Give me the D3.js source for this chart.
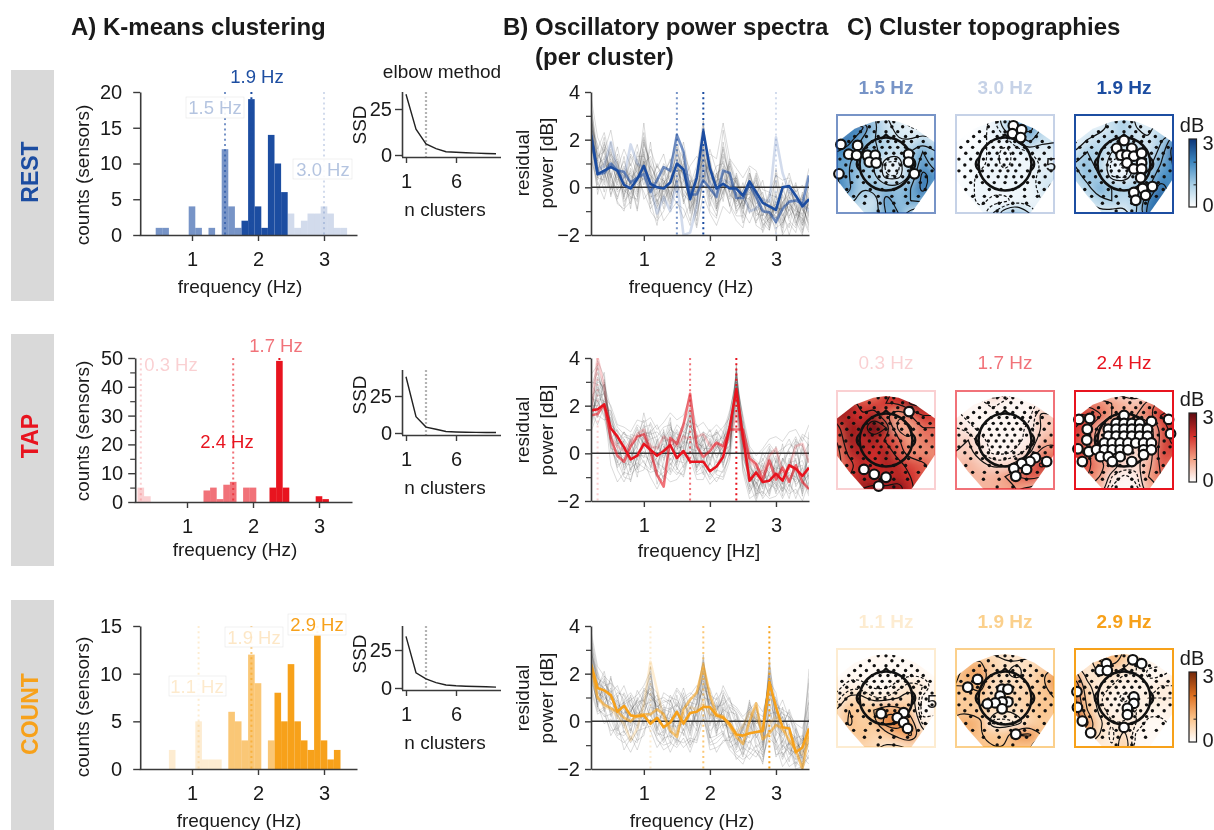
<!DOCTYPE html>
<html><head><meta charset="utf-8">
<script src="https://cdnjs.cloudflare.com/ajax/libs/d3/7.8.5/d3.min.js"></script>
<style>
html,body{margin:0;padding:0;background:#fff}
svg{display:block;filter:blur(0.35px)}
text{font-family:"Liberation Sans",Arial,sans-serif;fill:#1a1a1a}
</style></head><body><div id="c"></div>
<script>
// ---------- DATA ----------
const freqs=[.2,.3,.4,.5,.6,.7,.8,.9,1,1.1,1.2,1.3,1.4,1.5,1.6,1.7,1.8,1.9,2,2.1,2.2,2.3,2.4,2.5,2.6,2.7,2.8,2.9,3,3.1,3.2,3.3,3.4,3.5];
const restHist=[
 [[2.5,3],[2.6,1],[2.7,2],[2.8,3],[2.9,3],[3,4],[3.1,3],[3.2,1],[3.3,1]],
 [[.5,1],[.6,1],[1,4],[1.1,1],[1.3,1],[1.5,12],[1.6,4],[1.7,1]],
 [[1.8,2],[1.9,19],[2,4],[2.1,1],[2.2,14],[2.3,10],[2.4,6]]];
const tapHist=[
 [[.3,5],[.4,2]],
 [[1.3,4],[1.4,5],[1.5,1],[1.6,6],[1.7,7],[1.9,5],[2,5]],
 [[2.3,5],[2.4,49],[2.5,5],[3,2],[3.1,1]]];
const countHist=[
 [[.7,2],[1.1,5],[1.2,1],[1.3,1],[1.4,1]],
 [[1.6,6],[1.7,5],[1.8,3],[1.9,12],[2,9],[2.2,3]],
 [[2.3,8],[2.4,5],[2.5,11],[2.6,5],[2.7,3],[2.8,2],[2.9,14],[3,3],[3.1,1],[3.2,2]]];
const restPeaks=[1.5,1.9,3.0], tapPeaks=[.3,1.7,2.4], countPeaks=[1.1,1.9,2.9];
const restPeakShade=[.6,1,.2], tapPeakShade=[.2,.6,1], countPeakShade=[.2,.6,1];
const restTitles=["1.5 Hz","3.0 Hz","1.9 Hz"], tapTitles=["0.3 Hz","1.7 Hz","2.4 Hz"], countTitles=["1.1 Hz","1.9 Hz","2.9 Hz"];
const restTitleShade=[.6,.25,1], tapTitleShade=[.2,.6,1], countTitleShade=[.2,.5,1];
const nClusters=[1,2,3,4,5,6,7,8,9,10];
const restSSD=[33,14,6,3.5,1.8,1.5,1.2,1,.8,.7];
const tapSSD=[38,11,4,2.5,1,.7,.5,.4,.3,.3];
const countSSD=[34,10,6,3.5,2,1.5,1.2,1,.8,.6];
const restMeans=[
 [2.4,.7,.9,1.9,.7,.4,1.8,1,.8,.1,-1.1,-.4,-1,.3,-2,-1.9,-.8,.9,.2,-.2,.3,.2,-.3,-.3,-1,-.9,-.5,-.6,2.1,.6,-.2,-.4,-.7,-1],
 [2.2,.55,.6,1,.7,.65,.2,.4,.55,-.2,.3,.85,.7,2.2,1.5,-.3,-.3,.3,-.05,-.4,.7,.6,-.45,-.45,.1,-.4,-1,-1.05,-1.45,-.9,-.6,-.55,-.7,.5],
 [2.2,.55,.7,.85,.7,.1,-.05,.35,.9,.15,0,-.05,.2,1,.75,-.5,.4,2.35,.8,-.05,.15,-.05,-.05,-.35,.25,-.2,-.65,-.8,-.95,0,.05,-.35,-.8,-.5]];
const tapMeans=[
 [1.7,4,2.8,.7,.3,.1,.5,.8,1,.3,.2,.7,.5,.3,.7,.6,.7,.8,.3,.4,.2,.7,1.7,.5,-.3,-.6,-.8,-.1,.2,-.8,-.6,.3,.4,-.4],
 [1.6,1.65,2.05,.6,-.1,-.35,.3,.7,.8,.1,-.9,-1.4,.65,.4,1.2,2.5,.3,-.15,.1,.45,.3,1,1,1,-.2,-.45,-1.1,-.3,-1.1,-.6,-1.2,-.5,-1.2,-1.5],
 [1.8,1.85,2.05,1.05,.7,.25,-.25,-.1,.4,.15,-.1,.1,.35,-.2,.1,-.35,-.35,-.35,-.75,-.55,-.15,1.1,2.7,.7,-1.15,-.8,-1.2,-1.15,-.85,-1.15,-.5,-.65,-.95,-.6]];
const countMeans=[
 [2.4,1,.6,.5,.2,-.1,-.8,-.3,.7,2.5,1.3,.1,-.2,-.5,.3,.6,.5,.8,.3,.2,.1,-.2,-.5,-.2,.4,.1,-.4,-.1,.2,-.4,-.5,-1,-1.4,-.6],
 [2.3,1,.7,.55,.4,.15,0,.25,.3,.3,.5,.3,-.4,-.65,.5,.9,1.2,2.35,1.1,.3,.2,-.2,-.65,-.95,0,.75,-.75,-.5,-.15,-.3,-.8,-1.2,-2,-.5],
 [2.4,1.4,1.3,1.1,.4,.65,.25,.2,.25,-.1,.15,-.25,-.05,.4,-.1,.35,.4,.6,.6,.25,.15,-.1,-.55,-.6,-.5,-.45,-.4,1.65,.6,-.25,-.3,-1.3,-1.1,-.3]];
const restSensors=[
 [2.8,1.2,.4,1.9,.6,-.3,.2,.9,2.1,.8,-.4,.3,-.2,.6,1.9,.4,-1.2,.3,1.6,.7,-.3,1.2,.2,-.8,-.4,.5,-.6,-1.3,-.8,-1.6,-.5,.2,-.9,-1.4],
 [3.4,1.6,2.3,1.1,.2,.9,.1,-.4,1.4,-.2,.6,.9,-.6,1.2,.5,-.7,.2,2.1,1,-.9,-.2,.6,-.3,-1.1,.3,-.5,-.2,-1.6,-.3,-1,-.8,-1.2,-.4,.8],
 [2.2,.3,1.1,.4,1.4,-.2,.8,.3,2.7,.4,-.8,-.3,.7,-.4,1.1,-.2,-.9,2.6,.4,.2,1.6,.3,-.6,-.2,.8,-1,-.8,-.4,.3,-1.4,-.2,-.7,-1.6,-.5],
 [2.6,.9,-.2,1,.3,.6,-.5,1.2,.1,.9,.3,-.9,.4,.9,-.4,.3,-1.6,.8,-.3,-1,.5,1,.1,-1.3,-.6,.4,-1.2,-.5,-1.5,-.2,.6,-.4,-1.2,-1.8],
 [3,1.3,1.5,2.4,.9,.2,-.3,.6,1.5,-.7,-.2,.8,.2,1.5,.8,-.3,.5,1.1,-.5,-.2,2.4,.7,-1.1,-.5,-.9,.1,-1.4,-1,-1.9,-.6,-.3,-1.5,-.7,-.9],
 [1.8,.1,.7,-.3,.5,1.1,.2,-1,.7,.2,-1.3,.1,-.7,.3,1.4,-.9,-.4,1.3,.2,-.6,.1,-.5,.4,-.9,.1,-.7,-.4,-1.8,-.6,-1.2,-1.7,-.3,-1,-.2],
 [2.4,.6,1.9,.2,-.4,.4,1,.2,1.8,1.1,.1,-.6,.9,2.2,.2,-.2,.7,1.7,.8,.4,1.1,-.4,.3,-.7,-.2,-1.2,-.9,-1.4,.8,-.8,-.6,-1.1,-1.9,-1],
 [3.2,.8,.1,.9,1.2,-.6,-.2,1.5,.5,-.5,.4,.3,-.3,.2,-.5,-1.4,-.1,.9,-.8,.6,.8,.2,-.9,-.1,.6,-.3,-1.7,-.7,-1.1,.2,-1.2,-.9,-.3,-1.3],
 [2,1.4,.9,1.6,-.1,.8,.5,-.2,1.1,-.3,-.9,.6,1.1,1.7,1.2,.1,-.7,1.9,.3,-.7,-.4,1.1,-.2,-1.5,-.7,.2,-.3,-1.1,-1.2,-1.7,-.1,-.6,-1.4,.4],
 [2.9,.4,1.3,-.1,.7,-.8,.4,.7,2.3,.6,-.6,-.1,.3,1,-.1,-.5,-1.1,.2,1.1,.1,.3,-.8,.6,-.4,-.5,-.9,-1.5,-1.8,-.5,-.4,-1.4,-1.7,-.6,-1.2],
 [2.5,1.8,.2,1.4,1,.3,-.7,.5,1,1.3,.5,-.5,-.1,.8,.6,.5,-.3,1.5,-.1,-.4,1.9,.4,-.4,-.9,.4,-.6,-1,-.2,-.9,-.9,.3,-1,-1.1,-.7],
 [3.6,1,1.2,.7,.1,1.3,-.1,-.6,1.6,0,-.1,.4,-.9,.5,.9,-1,.1,2.4,.6,-.1,.6,-.2,-.7,.2,-1.1,-.1,-.6,-1.2,-1.7,-1.5,-.9,.1,-.8,-1.6],
 [1.4,-.1,.5,1.2,.6,-.4,.7,.1,.4,-.6,-1.6,.2,.5,-.2,.3,-.4,-1.4,.6,-.6,-1.2,-.1,.1,-1,-.6,.2,-1.4,-1.1,-1.5,-.2,-1.9,-.4,-.8,-1.8,-.4],
 [2.7,.7,1.6,.5,-.2,.1,1.4,.9,.7,.5,.2,1,.6,1.3,-.7,.2,.4,1.2,.2,.9,1,.5,.2,-.3,-.3,.6,-.5,-.9,-1,-.1,-.7,-1.3,-.2,-1.1],
 [2.1,-.3,.9,.1,-.6,-1,.3,-.9,1.2,-1,-1.4,-1,-.2,-.7,-.9,-1.6,.1,.5,-1,-1.3,.7,-.8,-1.4,-1.7,-.4,-1.6,-1.8,-.9,-.7,-2,-1.5,-1.9,-.6,-1.7],
 [3.1,.5,1.7,-.4,.8,1.6,.9,1.8,.6,1.6,.8,1.4,.2,.6,.3,.9,1.3,1,1.4,1.2,2.7,1.2,.8,.4,.9,.7,-.1,-.2,.5,.3,.4,-.2,.1,-.6],
 [1.2,.2,-.5,.6,-.7,-.9,-.6,.4,-.2,-.9,-.5,-1.4,-1,-.6,-1.3,-.7,-1.7,-.3,-1.1,-1.6,-.8,-1.1,-.2,-1,-1.5,-.8,-1.9,-1.2,-.8,-1,-2,-1.1,-1.3,-1.9],
 [3.8,2.1,1.4,.8,1.7,.4,.6,-.1,2,.3,.9,.5,1.2,-.1,1.5,.7,-.6,1.4,.5,-.5,1.3,-.2,.5,-.6,.5,-.3,.3,-1,-1.3,-.7,.1,-.7,-1.5,.2],
 [2.3,1,.6,-.1,1.1,-.5,1.3,.6,.3,1.9,-.2,-.7,.1,1.8,-.6,.1,.9,2.8,-.2,.6,-.6,.9,-.5,-.3,-.8,-1.5,-.6,-.8,-1.6,-.3,-1,-.5,-.5,-.8],
 [2.6,.4,.3,1.5,.4,.7,-.9,1,-.5,-.1,1,.1,.8,.1,1,-1.1,.5,.4,1.3,-.8,.1,-.7,-1.2,-1.2,.6,-.2,-1.3,-1.7,.2,-1.2,-.6,-1.4,-2,-.3],
 [1.6,1.1,2.1,.3,-.1,.2,.1,1.3,1.3,.7,-.7,.7,-.4,.4,.1,-.1,-.2,1.8,-.4,.3,.4,.1,0,-.8,-.1,.3,-.7,-.6,-1.3,-.6,-1.3,-.1,-.9,-1.5],
 [2.9,1.5,.8,1.1,.5,-.1,-.4,-.5,1.1,.2,.2,-.2,.9,.7,.7,.2,-.8,1,.7,.1,1.4,.6,-.8,-.6,-.1,-1.1,-1.2,-.3,-.4,-1.5,-.9,-1.6,-.4,-.9],
 [2.2,.8,1,.6,-.5,.5,.2,-.3,.8,-.4,-.3,.2,-.5,1,-.3,-.6,.3,1.6,-.1,-.9,.9,-.3,-.6,-.1,.3,-.4,-1.6,-1.3,-1.1,-.8,-.7,-1,-1.6,-.6],
 [3.3,1.2,1.8,1.3,.8,.1,.5,.3,1.9,.9,.4,-.4,.2,1.6,.4,-.3,.6,2.2,.9,.2,1.7,.3,.4,-.5,.1,-.8,-1,-1.2,.6,-1,.1,-.9,-1.2,.1]];
const tapSensors=[
 [2.1,3.2,2.6,1.2,.2,-.5,.4,1.1,.3,-.6,.5,.9,-.3,.2,1.2,1.9,.3,-.4,.6,-.2,.3,1.1,3.4,1.2,-.9,-1.5,-.6,-1.2,-.3,-1.6,-.5,.4,-1.1,-.7],
 [1.4,2.6,3.4,.8,-.4,.6,-.2,.4,1.2,.1,-.8,.2,1.3,-.4,.6,1.4,-.3,.8,-.5,.4,-.2,.8,2.8,.5,-1.4,-.7,-1.3,.2,-1.1,-.8,-1.4,-.2,-1.8,.3],
 [2.5,1.8,2.2,1.6,.9,-.1,.2,-.6,.8,.7,-.3,-1.1,.4,.9,-.2,1.1,.7,-.8,.2,.9,-.4,.2,3.1,.9,-.3,-1.8,-.9,-.4,-1.4,-.2,-.9,-1,.2,-1.3],
 [1.1,2.1,2.9,1.9,.4,.5,-.7,.2,-.2,.9,.2,.4,-.8,.6,.2,2.2,-.1,.4,-.9,-.3,.6,1.4,2.4,-.2,-1,-1.2,-1.7,-.7,.3,-1.3,-.2,-.9,-1.4,.5],
 [2.8,3.6,1.9,.5,.1,-.9,.8,.7,1.4,-.2,-.6,.7,.1,-.5,.9,.8,-.7,.1,.5,-.8,.2,.5,3,1.5,-.5,-1,-.4,-1.6,-.8,.4,-1.2,-.6,-.5,-1.6],
 [1.7,2.4,2.5,.9,-.2,.3,.1,-1,.5,.4,-1.3,-.4,.8,.3,-.6,.5,.2,.6,-.2,.2,.9,-.1,3.6,.6,-.7,-1.6,-1.1,-.9,-1.7,-.4,.1,-1.4,-.9,-.2],
 [3,2.9,2,1.4,.7,.2,-.4,.9,.6,.2,.3,-.2,.5,1,.4,1.6,-.5,-.3,.3,.6,-.6,.9,2.5,.2,-1.2,-.4,-1.5,-.2,-1,-.9,-.7,.6,-1.2,-.9],
 [.9,1.7,3,.3,-.6,-.2,.5,-.3,.9,-.4,-.2,.5,1.5,-.7,.1,.9,.4,.3,-.7,-.5,.1,.3,2.9,-.4,-1.7,-.9,-.7,-1.4,-.5,-1.8,-.3,-.8,-1.6,.9],
 [2.3,2.2,1.6,1.1,.5,-.6,-.1,.3,1.7,.5,-.9,1,-.5,.1,.8,.2,.1,.9,.4,.1,.5,1.7,3.2,1,-.2,-1.3,-.2,-1,-1.2,-.5,-1,-1.1,.4,-1],
 [1.9,3,2.8,.6,1,.4,-.8,.1,-.4,-.7,.6,-.7,.2,.7,-.3,1.2,.9,-.6,.1,-.4,-.1,.6,2.2,.4,-.6,-1.9,-1,-.6,-.1,-1.1,-1.6,.1,-.8,-1.4],
 [2.6,1.5,2.3,1.7,.3,.9,.3,.6,.2,1,-.1,.1,.9,-.2,.5,.4,-.6,.5,.8,.5,.7,1,2.7,.8,-1.1,-.6,-1.4,-.1,-.9,-1.5,-.4,-.3,-1.5,.1],
 [1.2,2.8,1.7,.4,-.5,-.3,.6,-.7,.7,.3,-.5,.3,-.1,.4,1,1.5,-.2,-.9,-.4,.7,-.5,.4,3.3,.1,-1.5,-1,-.8,-1.3,-1.5,-.2,-.6,-1.3,-1,-.5],
 [2,2,2.6,1.3,.6,.1,0,.5,1,-.1,.1,.8,.3,.5,-.1,1,.5,.2,.2,-.1,.3,1.3,2.6,.7,-.4,-1.4,-.5,-.8,-.6,-.7,-1.1,-.5,-.3,-1.1],
 [1.5,3.9,3.2,.7,.2,-.4,-.5,.8,.4,.6,.7,-.3,.6,.2,.3,.7,-.4,.7,-.3,.3,.1,.7,3.5,.3,-.8,-1.1,-1.2,-1.7,-.2,-1,-.8,-1,-1.3,-.8],
 [1.8,1.2,2,-.5,-1.2,-.8,-.9,-.6,-.3,-1,-1.5,-.9,-1.2,-1.1,-.7,.1,-.9,-.8,-1.3,-1,-1.1,-.3,1.9,-.8,-1.9,-1.7,-1.6,-1.9,-1.8,-1.4,-1.7,-1.5,-2,-1.2],
 [2.7,3.4,2.4,2,1.2,1.1,.9,1.4,1.3,1.5,1,1.3,1.7,1.4,1.6,2.4,1.1,1.3,.9,1.2,.9,1.8,3,1.6,.3,-.1,.2,.6,.7,.5,.9,1,.5,1.2],
 [1.3,2.5,3.1,1,.8,-.7,-.3,-.8,-.7,.2,-.4,-.6,-.9,-.3,-.4,.6,-.8,-.5,-1.1,-.7,-.8,0,2.3,-.5,-1.3,-2,-1.2,-1.1,-1.3,-1.9,-1.3,-1.7,-1.2,-1.5],
 [2.2,1.6,1.4,1.5,.4,.7,.6,1.2,.9,.8,.9,.6,1,.8,.7,1.7,.6,.9,.7,.8,1.1,1.5,2.8,1.1,.1,-.8,.1,.4,0,.2,.4,.2,.8,.6],
 [1,3.1,2.7,.1,-.3,-1,-1.1,-.2,.1,-.5,-.9,-1.2,-.4,-.8,-.9,.3,-.6,-.2,-.8,-1.2,-.7,-.2,3.7,-.1,-1,-1.5,-1.8,-.8,-1.6,-1.2,-1.9,-.7,-1.7,-.9],
 [2.4,2.7,1.8,1.8,1.1,.8,.7,.2,1.1,1.2,.4,-.1,1.1,.6,1.3,1.1,.8,.1,.4,1,.4,1.2,2,1.3,-.1,-.3,-.6,.1,.1,-.6,.2,.7,-.1,.4],
 [1.6,2.3,2.2,.5,-.7,-1.2,-.6,-.4,-.6,-.8,-.7,-1,-.6,-.9,-.5,-.2,-1.1,-1.1,-.4,-.9,-1,.1,2.6,-.7,-1.6,-1.2,-1.9,-1.5,-1.2,-1.6,-1.1,-1.9,-1.1,-1.8],
 [3.3,3.7,2.5,1.2,.9,.6,.2,.7,.8,.9,1.2,.5,.6,1.2,.9,1.3,1.2,.5,1,.2,.8,1.6,3.3,1.4,.2,-.5,-.3,.3,-.4,.1,.6,-.1,.7,.3],
 [1.7,2.2,1.5,.2,.1,-.2,-1.2,-.1,-.1,-.3,-1,-.8,-.2,-.6,-1,.1,-.3,-.6,-1,-.6,-.3,.2,2.5,.1,-.9,-1.7,-1,-1.8,-.7,-1.3,-.9,-1.2,-.6,-1.7],
 [2.9,2.4,2.9,1.1,.5,.9,.5,1,.4,1.3,.7,1.1,1.2,.3,.2,1.8,.4,.8,.6,.9,.6,1.2,2.9,.5,-.6,-.9,0,-.4,-.7,-.3,.2,.5,.3,-.4]];
const countSensors=[
 [3,1.7,.9,1.4,.2,.9,-.2,.5,1.2,1.9,.3,-.3,.6,-.4,.9,.3,.7,1.9,.4,-.6,.8,-.2,-.9,-.3,.5,-.7,-.2,1.8,.5,-.6,-.2,-1,-1.5,.6],
 [2.2,1.1,1.8,.7,1.1,-.1,.4,.9,.3,1.2,-.4,.5,-.7,.8,.1,-.5,.9,1.2,-.2,.7,-.3,.6,-.2,-1.1,-.4,.3,-1,2.4,-.3,.2,-1.1,-1.4,-.8,-.7],
 [3.6,2.1,1.2,.3,.6,.3,1.1,-.3,.7,.8,1.1,.1,.4,-.9,.6,.7,-.2,2.4,1,.1,.4,-.8,-.3,-.9,-.6,.6,-.3,1.1,1,-.9,.2,-.4,-1.9,-.2],
 [2.7,.9,1.5,1.6,-.1,.6,-.5,1,.6,2.3,.1,-.6,-.1,.3,1.2,-.2,.3,1.6,.7,-.3,1.2,.2,-.5,-1.2,.2,-.2,-.7,1.5,-.6,.6,-.6,-1.6,-1.1,1.2],
 [2,1.5,.4,1.1,.8,-.5,.2,.7,-.2,.6,.5,.7,-.5,.4,-.4,.5,1.3,.8,.2,1,.1,-.4,-1.2,-.4,.9,-.9,-1.3,.7,.2,-1.1,-.5,-.8,-1.3,-.9],
 [3.2,1.2,1,.8,.4,1.2,.6,-.6,1.1,1.4,-.2,-.8,.9,.1,.4,-.6,.6,2.8,-.1,.3,-.6,.4,.3,-.7,-1.2,.1,-.5,2.1,-.9,-.3,-1.4,-.7,-2,.2],
 [2.5,.6,1.4,.2,.9,.1,-.8,.2,.4,1,.7,.2,.1,-.3,.8,.1,-.4,1.3,1.2,-.5,.6,-.9,-.7,-1.5,-.1,.7,-.9,.3,.4,-1.5,-.8,-1.8,-1,-.4],
 [2.9,2,.7,1.3,-.3,.4,.3,1.3,.8,1.7,0,.4,-.3,1.1,-.2,.9,.2,2.1,.5,.5,.9,.1,-1.1,-.2,.4,-.4,-1.5,1.3,-.2,.2,-.3,-1.2,-.6,-1.3],
 [1.7,.8,1.1,.6,.3,-.3,.7,.1,.2,.4,-.6,-.4,.3,-.6,.2,-.9,.5,.5,-.4,-.1,.2,-.5,-.5,-.8,-.9,-.5,-.4,.9,-1.2,-.8,-1.7,-.3,-1.7,-.8],
 [3.3,1.4,2.1,.9,.7,.5,.1,-.2,1.4,1.1,.6,.9,.7,.3,.7,.3,1.1,1.8,.1,.8,-.2,-.1,.1,-1,-.3,.4,.2,1.6,.2,-.1,.4,-.9,-1.2,2.2],
 [2.1,1.6,.5,1.9,.1,.8,-.4,.4,.1,2,.2,-.2,-.9,.5,-.6,.4,-.1,1,.9,-.2,.5,.3,-.8,-.6,.1,-1.1,-.8,1,.7,-1.2,-.9,-1.1,-.9,-1],
 [2.6,1,1.3,.4,1,-.2,.5,.8,.9,.2,.9,-.5,.2,-.1,1,-.3,.8,2.2,.3,.2,.3,-.7,-.4,-1.3,.6,-.3,-1.1,2.7,-.1,-.5,-.1,-1.5,-1.4,-.6],
 [3.1,.7,1.7,1,.5,.7,-.1,.6,-.1,.9,-.3,.6,.5,.7,.3,-.4,.4,1.5,-.7,.4,1,.5,.2,-.5,-.7,.2,-.6,1.2,.9,.1,-1,-.6,-1.6,.4],
 [2.3,1.3,.8,.5,-.4,.2,.9,.3,.5,1.6,.3,.1,-.2,-.2,-.1,.6,0,1.7,.6,-.4,-.1,-.3,-1,-.1,-.2,-.6,-1.2,.5,-.4,-.7,-1.2,-1.3,-.7,-1.1],
 [1.5,.4,.6,-.2,-.7,-.9,-.6,-1.2,-.4,.1,-.8,-1,-.9,-1.1,-.7,-1.3,-.5,.2,-1,-.9,-.6,-1.2,-1.5,-1.8,-1.1,-1.3,-1.6,-.2,-1.4,-1.3,-1.9,-1.7,-2,-1.4],
 [3.8,2.3,1.9,1.6,1.3,.9,1.2,.7,1,1.3,.9,1,.8,1.4,1,1.2,1,2,1.1,.9,1.3,.8,.6,.2,.5,.8,.4,1.4,.6,.5,.3,-.1,-.3,.8],
 [2.4,.5,.3,-.4,-.3,-.8,-1.3,-.7,.2,-.4,-1.1,-.7,-.6,-.8,-.9,-.7,-.8,.7,-.7,-.6,-.4,-1,-1.4,-1.6,-1.4,-1,-1.8,.1,-.9,-1.6,-.9,-1.9,-1.2,-1.6],
 [2.8,1.8,1.6,1.2,1.5,.7,.9,1.1,1.5,2.1,.4,1.2,1,.9,.5,.8,.7,1.4,1.4,.5,1.5,.9,.3,-.4,.3,.1,-.1,2,.3,.9,.1,-.5,-.8,1.6],
 [1.9,.7,-.1,.1,-.6,-.4,-.9,-.4,-.3,-.2,-.7,-1.2,-1,-.4,-.5,-1,-.6,.3,-1.2,-1.1,-.9,-.6,-1.6,-1.3,-1.6,-1.2,-1.4,-.7,-1,-1.9,-1.5,-1.2,-1.8,-1.5],
 [3.4,1.9,1.1,1.8,1,1.5,.7,.2,.7,1.5,1.2,.3,1.1,.6,1.4,.5,1.2,2.5,.8,.6,.7,1,-.1,-.7,.8,-.1,.1,1.7,1.2,-.2,.5,-.3,-.9,.1],
 [1.3,.3,.5,-.6,-.1,-1.2,-.7,-.9,.1,.3,-.5,-.6,-1.3,-.7,-1.1,-.8,-.9,.1,-.6,-1.3,-.8,-.8,-1.3,-1.1,-1.3,-1.5,-1,.5,-1.5,-1,-1.3,-1.6,-1.5,-1.8],
 [2.7,1.5,1.9,.9,1.2,1.1,.4,.9,1.3,1.1,.8,.5,.4,1.3,.9,1.1,1.5,1.1,.7,1.2,.4,.7,.5,.1,-.1,.5,-.2,1.9,.1,.4,-.4,-.7,-.6,1.8],
 [2,.6,.2,.3,-.5,-.6,-.3,-.8,-.6,.7,-.4,-.9,-.4,-1,-.3,-1.1,-.3,.6,-.9,-.7,-.5,-1.1,-.9,-1.4,-.8,-1.3,-1.7,-.3,-.8,-1.4,-1.1,-2,-1.9,-1.2],
 [3.5,1.6,1.4,1.1,.6,.8,1,.6,.9,1.2,.6,.8,.9,.2,.6,1,.9,2.6,.8,.4,1.1,.6,.4,-.3,.7,.3,-.4,2.3,.8,.3,.2,-.2,-1.1,.9]];
// topography grids, 9x9, dB, top row first
const restMaps=[
 [0,0,.5,1,.5,.3,.2,0,0, .5,2,2.2,1.2,.6,.4,.3,.1,0, 2.2,2.2,1.5,1,.8,.5,.5,.8,.5, 2,1.8,1.2,1.2,.8,.6,1,1.5,1, 1.6,1.5,1.2,1,.2,.2,1,1.8,1.2, 2,1.5,1,1,.3,.3,1,2.2,1.8, 2.2,1.6,1,1.2,1.2,1.2,1.5,2.2,1.5, 1.5,1.2,.8,.5,1.8,1.2,1.5,1.6,1, .2,.5,.5,.8,1.5,1.5,.8,.5,.2],
 [0,0,0,.2,.8,1.5,1,.2,0, 0,0,.1,.2,.6,1.6,1.8,1,.3, .1,0,.1,.2,.2,.6,1.2,.6,.6, 0,.1,.1,.2,.1,.2,.3,.3,.3, .1,.1,.1,.2,.1,.2,.2,.3,.3, 0,.1,.2,.2,.2,.2,.2,.4,.4, .1,.1,.2,.2,.2,.2,.2,.4,.7, .1,.1,.2,.1,.1,.2,.2,.3,.4, 0,.1,.1,.3,.7,1,.5,.2,.1],
 [0,0,.3,.8,.8,.4,.3,0,0, .3,.3,.3,.6,1,.5,.4,.8,.3, .2,.5,.7,.8,.8,.6,.5,.9,1.8, .5,1,.9,.5,.4,.7,.5,1.2,2.3, 1,1.2,.8,.2,.1,.6,.8,1.5,2, .8,1.2,1,.3,.2,.7,1.2,1.8,2, .6,.8,1.5,1,.9,1,1.5,2.3,1.8, .4,.5,.8,1,.7,.9,2,2.5,1.5, .2,.3,.4,.3,.3,1,2.3,2.2,.8]];
const tapMaps=[
 [.6,.8,1,1.2,1.8,2.2,2.5,1.5,.8, 2.8,2.6,1.8,1.8,2,2,2.6,2.7,1.5, 2.5,2.2,2,2.4,1.5,1,1.5,2,2, 1.8,2.5,2.4,2.9,2.5,.8,.9,1.5,1.5, 1.5,2.5,2.2,2.4,1.9,1.6,1,1.3,1.4, 1.3,2.2,2.4,2,2.4,1.7,1.2,1.2,1.2, 1.3,1.8,2.2,2,2.4,2.2,1.8,1.6,1.3, 1.5,2,2.2,2.2,2,2.3,2,1.7,1.3, 1,1.8,2.5,2.7,2.6,2.8,2.2,1.6,1],
 [0,0,.3,.6,.4,.1,0,0,0, .1,.1,.1,.2,.1,.1,.1,.2,.2, .2,.1,.1,.1,.1,.1,.1,.6,.5, .3,.2,.1,.1,.1,.1,.2,.5,.6, .4,.5,.2,.1,.1,.1,.2,.7,.9, .5,.6,.3,.1,.1,.2,.4,1.2,1.3, .7,.8,.6,.4,.4,.6,1.5,2.2,1.6, .6,.8,.8,.8,1,1.5,1.7,1.5,1, .3,.6,.8,.8,.9,1,.9,.6,.3],
 [0,.3,.6,.4,.2,.2,.4,.6,.3, 1.2,1.4,1.2,1,.8,.6,1.2,1.8,1.8, 2.2,2,1.6,1,.8,1,1.4,2,2.4, 2,1.6,.8,.5,.5,.6,.6,1.6,2.2, 1.8,1.4,.6,.4,.4,.5,.6,1.6,2.2, 2,1.6,.8,.4,.4,.4,.6,1.8,1.8, 2,1.7,1.2,.8,.4,.4,.8,1.6,1.5, 1.4,1.5,1,.3,.1,.2,1,1.5,1, .6,1,.8,.1,.1,.1,.8,1,.5]];
const countMaps=[
 [0,0,.1,.2,.1,0,.1,0,0, 0,.1,.1,.1,.1,.1,.1,.2,0, 0,.1,.1,.1,.1,.1,.1,.1,0, .1,.2,.2,.1,.1,.2,.4,.3,.1, .2,.6,.6,.3,.3,.5,.7,.1,.1, .5,1,.8,1,1.4,1.2,.8,0,.1, .5,1.1,.8,.9,1.8,2,1.3,.2,.3, .2,.8,1,.7,.8,1.2,1.6,.7,.4, .1,.4,.7,.6,.4,.4,.6,.4,.1],
 [0,0,.3,.4,.4,.3,.2,.1,0, .4,1.1,1,.7,.5,.5,.6,.7,.2, .9,1.3,1.5,.7,.5,.4,.6,.9,1.4, 1,1,1.2,.5,.6,.6,.7,.9,1.4, .8,.9,.9,.6,.6,.7,.8,.9,1, .9,.9,.8,.6,.5,.6,.8,1,.9, 1.2,1.3,1.1,.2,.2,.3,.7,.9,.8, 1.4,1.2,1,.9,.9,1.5,1.6,1,.8, .7,.9,1,1,1,1,1,.8,.4],
 [0,.1,.4,1,1,.6,.3,.1,0, .3,.4,1,1.3,.8,.3,.2,.2,.1, 1.2,.3,.5,.5,.3,.3,.1,.1,.2, 2,.6,.3,.3,.2,.2,.2,.3,.3, 2,.8,.3,.2,.1,.2,.3,.3,.3, 2.3,1,.4,.2,.2,.3,.2,.2,.2, 2.4,1.6,.6,.3,.3,.3,.1,.1,.2, 1.6,1.2,.5,.2,.6,.1,.1,.1,.1, .6,.5,.3,.3,.8,.1,.1,0,0]];
// sensor layout in head coordinates (0..1): [row, columns]
const sensorRows=[[.07,[.42,.5,.58]],[.12,[.33,.56,.67]],[.17,[.24,.38,.5,.62,.76]],[.22,[.18,.3,.42,.58,.7,.82]],[.27,[.12,.24,.36,.44,.52,.6,.68,.76,.88]],[.33,[.05,.17,.3,.38,.46,.54,.62,.7,.83,.95]],[.39,[.1,.22,.34,.42,.5,.58,.66,.78,.9]],[.45,[.03,.15,.28,.36,.44,.52,.6,.72,.85,.97]],[.51,[.09,.21,.33,.41,.49,.57,.65,.79,.91]],[.57,[.03,.15,.27,.37,.45,.53,.61,.73,.85,.97]],[.63,[.09,.21,.33,.43,.51,.59,.67,.79,.91]],[.69,[.15,.27,.39,.5,.61,.73,.85]],[.76,[.1,.34,.46,.58,.7,.9]],[.83,[.17,.29,.42,.56,.7,.83]],[.9,[.28,.44,.58,.72]],[.98,[.42,.58]]];
const restMarked=[
 [[.04,.3],[.21,.31],[.12,.4],[.2,.41],[.31,.41],[.39,.41],[.33,.48],[.4,.49],[.73,.4],[.73,.48],[.79,.6],[.02,.6]],
 [[.585,.11],[.67,.15],[.575,.19],[.66,.23]],
 [[.5,.26],[.425,.34],[.58,.34],[.47,.41],[.53,.41],[.6,.42],[.68,.39],[.53,.49],[.68,.49],[.6,.55],[.68,.55],[.67,.64],[.79,.73],[.69,.75],[.6,.79],[.72,.82],[.62,.87]]];
const tapMarked=[
 [[.735,.21],[.275,.8],[.38,.85],[.5,.88],[.425,.97]],
 [[.925,.72],[.81,.68],[.755,.72],[.67,.74],[.59,.79],[.72,.8],[.61,.87]],
 [[.04,.29],[.15,.28],[.125,.39],[.12,.5],[.03,.59],[.14,.62],[.075,.72],[.955,.29],[.975,.435],[.5,.25],[.42,.33],[.5,.33],[.58,.33],[.66,.33],[.78,.31],[.34,.39],[.42,.39],[.5,.39],[.58,.39],[.66,.39],[.74,.39],[.34,.46],[.42,.46],[.5,.46],[.58,.46],[.66,.46],[.74,.46],[.3,.53],[.38,.53],[.46,.53],[.54,.53],[.62,.53],[.7,.53],[.78,.53],[.22,.6],[.3,.6],[.38,.6],[.46,.6],[.54,.6],[.7,.6],[.78,.6],[.26,.67],[.34,.67],[.46,.67],[.7,.65],[.38,.72],[.58,.72]]];
const countMarked=[
 [[.45,.66],[.68,.65],[.615,.7],[.68,.75],[.72,.81]],
 [[.22,.31],[.12,.39],[.47,.41],[.53,.41],[.45,.48],[.53,.54],[.47,.54],[.4,.55],[.32,.56],[.47,.61],[.61,.87]],
 [[.32,.15],[.59,.11],[.68,.15],[.255,.22],[.33,.22],[.02,.435],[.025,.595],[.075,.735],[.16,.855],[.6,.49],[.6,.555],[.535,.605],[.535,.67],[.5,.8]]];
const headOutline=[[.37,.07],[.5,.05],[.63,.07],[.8,.14],[1,.28],[1,.65],[.9,.8],[.76,1],[.28,1],[.12,.82],[0,.66],[0,.28],[.18,.14]];
const contourLevels=[.15,.3,.5,1,1.5,2,2.5];
const rowNames=["REST","TAP","COUNT"];
const rowColors=["#1c4da1","#e8141f","#f7a11a"];
const mapRamps=[["#ffffff","#a8cfe6","#3b86c0","#0a3478"],["#ffffff","#f3a184","#d32f2a","#5e0a10"],["#ffffff","#fbc48c","#de6f1f","#74280a"]];
const histTicks=[[0,5,10,15,20],[0,10,20,30,40,50],[0,5,10,15]];
const histMinor=[[],[5,15,25,35,45],[]];
const histMax=[20,50,15];

// ---------- LAYOUT ----------
const W=1214,H=830;
const L=[
 {band:[70,301],hx:[139.2,357],hy:[235,92],lineY:[235,92],eY:[155,109],eTop:92,eBot:157,ssdY:125,hTick:266,hXc:240,hLab:293,hYc:175,lLab:293,lXc:691,lYc:163,
  mapY:115,mapT:94,bold:true,cb:[139,207],eTick:189,eLab:216,lXlab:"frequency (Hz)",hPad:11,rowY:172},
 {band:[334,566],hx:[134.2,352],hy:[502,358],lineY:[501,358],eY:[433,396],eTop:370,eBot:435,ssdY:395,hTick:532,hXc:235,hLab:556,hYc:431,lLab:557,lXc:699,lYc:430,
  mapY:391,mapT:369,bold:false,cb:[413,482],eTick:467,eLab:494,lXlab:"frequency [Hz]",hPad:5,rowY:436},
 {band:[600,830],hx:[139.2,357],hy:[769,626],lineY:[769,626],eY:[688,650],eTop:626,eBot:690,ssdY:654,hTick:799,hXc:239,hLab:827,hYc:707,lLab:827,lXc:692,lYc:698,
  mapY:649,mapT:628,bold:true,cb:[672,742],eTick:722,eLab:749,lXlab:"frequency (Hz)",hPad:11,rowY:714}];
const peakLabels=[
 [{t:"1.5 Hz",x:215,y:114,o:.33,box:[186,97,58,21]},{t:"1.9 Hz",x:257,y:83,o:1},{t:"3.0 Hz",x:323,y:176,o:.33,box:[293,159,59,20]}],
 [{t:"0.3 Hz",x:171,y:371,o:.2},{t:"1.7 Hz",x:276,y:352,o:.6},{t:"2.4 Hz",x:227,y:448,o:1}],
 [{t:"1.1 Hz",x:197,y:693,o:.22,box:[169,676,57,20]},{t:"1.9 Hz",x:254,y:644,o:.25,box:[225,627,58,20]},{t:"2.9 Hz",x:317,y:631,o:1,box:[288,614,58,21]}]];
const mapX=[837,956,1075];
const MS=98;

const hists=[restHist,tapHist,countHist], peaks=[restPeaks,tapPeaks,countPeaks], shades=[restPeakShade,tapPeakShade,countPeakShade];
const means=[restMeans,tapMeans,countMeans], sensors=[restSensors,tapSensors,countSensors], ssds=[restSSD,tapSSD,countSSD];
const maps=[restMaps,tapMaps,countMaps], marked=[restMarked,tapMarked,countMarked];
const titles=[restTitles,tapTitles,countTitles], titleShades=[restTitleShade,tapTitleShade,countTitleShade];
const lineShades=[.2,.6,1];
const FS=19, AX="#3a3a3a";

const svg=d3.select("#c").append("svg").attr("width",W).attr("height",H);
const defs=svg.append("defs");
defs.append("filter").attr("id","soft").attr("x","-30%").attr("y","-30%").attr("width","160%").attr("height","160%")
  .append("feGaussianBlur").attr("stdDeviation",5);

function styleAxis(g,fs){
  g.select(".domain").attr("stroke",AX).attr("stroke-width",1.6);
  g.selectAll(".tick line").attr("stroke",AX).attr("stroke-width",1.4);
  g.selectAll("text").style("font-size",(fs||20)+"px").attr("fill","#1a1a1a");
}
function xAxis(sel,scale,y,vals,pad){
  const g=sel.append("g").attr("transform",`translate(0,${y})`)
    .call(d3.axisBottom(scale).tickValues(vals).tickFormat(d3.format("d")).tickSize(6).tickPadding(pad).tickSizeOuter(0));
  styleAxis(g);return g;
}
function yAxis(sel,scale,x,vals,pad,size){
  const g=sel.append("g").attr("transform",`translate(${x},0)`)
    .call(d3.axisLeft(scale).tickValues(vals).tickFormat(d3.format("d")).tickSize(size||7).tickPadding(pad).tickSizeOuter(0));
  styleAxis(g);
  g.selectAll("text").each(function(){const t=d3.select(this);t.text(t.text().replace("-","−"));});
  return g;
}
function minorAxis(sel,scale,x,vals){
  if(!vals.length)return;
  const g=sel.append("g").attr("transform",`translate(${x},0)`)
    .call(d3.axisLeft(scale).tickValues(vals).tickFormat("").tickSize(5).tickSizeOuter(0));
  g.select(".domain").remove();
  g.selectAll(".tick line").attr("stroke",AX).attr("stroke-width",1.2);
}
function txt(sel,s,x,y,o){o=o||{};
  const t=sel.append("text").attr("x",x).attr("y",y).text(s).style("font-size",(o.size||FS)+"px")
   .attr("text-anchor",o.anchor||"middle");
  if(o.bold)t.style("font-weight","bold");
  if(o.color)t.style("fill",o.color);
  if(o.opacity!=null)t.style("fill-opacity",o.opacity);
  if(o.rotate)t.attr("transform",`rotate(-90,${x},${y})`);
  return t;
}

// panel titles
txt(svg,"A) K-means clustering",71,35,{size:24,bold:true,anchor:"start"});
txt(svg,"B) Oscillatory power spectra",503,35,{size:24,bold:true,anchor:"start"});
txt(svg,"(per cluster)",535,65,{size:24,bold:true,anchor:"start"});
txt(svg,"C) Cluster topographies",847,35,{size:24,bold:true,anchor:"start"});
txt(svg,"elbow method",442,78,{});

rowNames.forEach((name,r)=>{
  const P=L[r], col=rowColors[r];
  const band=svg.append("g");
  band.append("rect").attr("x",11).attr("y",P.band[0]).attr("width",43).attr("height",P.band[1]-P.band[0]).attr("fill","#d9d9d9");
  txt(band,name,38,P.rowY,{size:23,bold:true,color:col,rotate:true});

  // ---- histogram ----
  const gh=svg.append("g");
  const hx=d3.scaleLinear().domain([.2,3.5]).range(P.hx);
  const hy=d3.scaleLinear().domain([0,histMax[r]]).range(P.hy);
  hists[r].forEach((bins,k)=>{
    gh.append("g").selectAll("rect").data(bins).join("rect")
      .attr("x",d=>hx(d[0]-.05)).attr("width",d=>hx(d[0]+.05)-hx(d[0]-.05))
      .attr("y",d=>hy(d[1])).attr("height",d=>hy(0)-hy(d[1]))
      .attr("fill",col).attr("fill-opacity",lineShades[k]);
  });
  peaks[r].forEach((f,k)=>{
    gh.append("line").attr("x1",hx(f)).attr("x2",hx(f)).attr("y1",P.hy[1]).attr("y2",P.hy[0])
      .attr("stroke",col).attr("stroke-opacity",shades[r][k]).attr("stroke-width",2).attr("stroke-dasharray","2 3.2");
  });
  xAxis(gh,hx,P.hy[0],[1,2,3],11);
  yAxis(gh,hy,P.hx[0]+1,histTicks[r],P.hPad);
  minorAxis(gh,hy,P.hx[0]+1,histMinor[r]);
  peakLabels[r].forEach(l=>{
    if(l.box)gh.append("rect").attr("x",l.box[0]).attr("y",l.box[1]).attr("width",l.box[2]).attr("height",l.box[3])
      .attr("fill","#fff").attr("fill-opacity",.9).attr("stroke","#e6e6e6").attr("stroke-width",.6);
    txt(gh,l.t,l.x,l.y,{size:18.5,color:col,opacity:l.o});
  });
  txt(gh,"frequency (Hz)",P.hXc,P.hLab,{});
  txt(gh,"counts (sensors)",89,P.hYc,{rotate:true});

  // ---- elbow ----
  const ge=svg.append("g");
  const ex=d3.scaleLinear().domain([1,10.5]).range([406,501]);
  const ey=d3.scaleLinear().domain([0,25]).range(P.eY);
  ge.append("line").attr("x1",ex(3)).attr("x2",ex(3)).attr("y1",P.eTop).attr("y2",P.eBot)
    .attr("stroke","#b4b4b4").attr("stroke-width",2.2).attr("stroke-dasharray","2 2");
  ge.append("path").datum(ssds[r]).attr("fill","none").attr("stroke","#222").attr("stroke-width",1.4)
    .attr("d",d3.line().x((d,i)=>ex(nClusters[i])).y(d=>ey(d)));
  const exa=ge.append("g").attr("transform",`translate(0,${P.eBot})`)
    .call(d3.axisBottom(ex).tickValues([1,6]).tickFormat(d3.format("d")).tickSize(6).tickPadding(P.eTick-P.eBot-21).tickSizeOuter(0));
  styleAxis(exa);
  exa.select(".domain").attr("d",`M402,0.5H501`);
  const eya=ge.append("g").attr("transform","translate(402,0)")
    .call(d3.axisLeft(ey).tickValues([0,25]).tickFormat(d3.format("d")).tickSize(7).tickPadding(3).tickSizeOuter(0));
  styleAxis(eya);
  eya.select(".domain").attr("d",`M0.5,${P.eTop}V${P.eBot}`);
  txt(ge,"n clusters",445,P.eLab,{});
  txt(ge,"SSD",366,P.ssdY,{rotate:true});

  // ---- spectra ----
  const gl=svg.append("g");
  const lx=d3.scaleLinear().domain([.2,3.5]).range([591,809]);
  const ly=d3.scaleLinear().domain([-2,4]).range(P.lineY);
  const cid="clipL"+r;
  defs.append("clipPath").attr("id",cid).append("rect").attr("x",591).attr("y",P.lineY[1]).attr("width",218).attr("height",P.lineY[0]-P.lineY[1]);
  const plot=gl.append("g").attr("clip-path",`url(#${cid})`);
  const line=d3.line().x((d,i)=>lx(freqs[i])).y(d=>ly(d));
  plot.append("g").selectAll("path").data(sensors[r]).join("path")
    .attr("d",d=>line(d.slice(0,freqs.length))).attr("fill","none").attr("stroke","#333").attr("stroke-opacity",.2).attr("stroke-width",.9);
  peaks[r].forEach((f,k)=>{
    plot.append("line").attr("x1",lx(f)).attr("x2",lx(f)).attr("y1",P.lineY[1]).attr("y2",P.lineY[0])
      .attr("stroke",col).attr("stroke-opacity",shades[r][k]).attr("stroke-width",2).attr("stroke-dasharray","2 3.2");
  });
  plot.append("line").attr("x1",591).attr("x2",809).attr("y1",ly(0)).attr("y2",ly(0)).attr("stroke","#333").attr("stroke-width",1.5);
  means[r].forEach((m,k)=>{
    plot.append("path").attr("d",line(m)).attr("fill","none").attr("stroke",col).attr("stroke-opacity",lineShades[k]).attr("stroke-width",2.6).attr("stroke-linejoin","round");
  });
  xAxis(gl,lx,P.lineY[0],[1,2,3],11);
  yAxis(gl,ly,591,[-2,0,2,4],5,6);
  minorAxis(gl,ly,591,[-1,1,3]);
  txt(gl,"residual",529,P.lYc,{rotate:true});
  txt(gl,"power [dB]",553,P.lYc,{rotate:true});
  txt(gl,P.lXlab,P.lXc,P.lLab,{});

  // ---- topographies ----
  const colorScale=d3.scaleLinear().domain([0,1,2,3]).range(mapRamps[r]).clamp(true);
  maps[r].forEach((grid,m)=>{
    const bx=mapX[m], by=P.mapY;
    const sx=d3.scaleLinear().domain([0,1]).range([bx,bx+MS]);
    const sy=d3.scaleLinear().domain([0,1]).range([by,by+MS]);
    const g=svg.append("g");
    const hid=`head${r}${m}`;
    defs.append("clipPath").attr("id",hid).append("path")
      .attr("d",d3.line().x(d=>sx(d[0])).y(d=>sy(d[1])).curve(d3.curveLinearClosed)(headOutline));
    const clipped=g.append("g").attr("clip-path",`url(#${hid})`);
    const cells=[];grid.forEach((v,i)=>cells.push({v,i:i%9,j:Math.floor(i/9)}));
    clipped.append("g").attr("filter","url(#soft)").selectAll("rect").data(cells).join("rect")
      .attr("x",d=>sx((d.i-.5)/8)-(d.i===0?25:0))
      .attr("y",d=>sy((d.j-.5)/8)-(d.j===0?25:0))
      .attr("width",d=>MS/8+.5+(d.i===0||d.i===8?25:0))
      .attr("height",d=>MS/8+.5+(d.j===0||d.j===8?25:0))
      .attr("fill",d=>colorScale(d.v));
    const contours=d3.contours().size([9,9]).thresholds(contourLevels)(grid);
    const cl=d3.line().x(d=>sx((d[0]-.5)/8)).y(d=>sy((d[1]-.5)/8)).curve(d3.curveBasisClosed);
    contours.forEach(c=>{
      c.coordinates.forEach(poly=>poly.forEach(ring=>{
        clipped.append("path").attr("d",cl(ring.slice(0,-1))).attr("fill","none").attr("stroke","#111")
          .attr("stroke-width",1.2).attr("stroke-dasharray",c.value<.5?"3 2":null);
      }));
    });
    const pts=[];sensorRows.forEach(([y,xs])=>xs.forEach(x=>pts.push([x,y])));
    clipped.append("g").selectAll("circle").data(pts).join("circle")
      .attr("cx",d=>sx(d[0])).attr("cy",d=>sy(d[1])).attr("r",1.7).attr("fill","#111");
    g.append("circle").attr("cx",sx(.5)).attr("cy",sy(.5)).attr("r",MS*.27).attr("fill","none").attr("stroke","#111").attr("stroke-width",2.6);
    g.append("path").attr("d",d3.line().x(d=>sx(d[0])).y(d=>sy(d[1])).curve(d3.curveLinear)([[.45,.245],[.5,.2],[.55,.245]]))
      .attr("fill","none").attr("stroke","#111").attr("stroke-width",2.2);
    g.append("path").attr("d",d3.line().x(d=>sx(d[0])).y(d=>sy(d[1])).curve(d3.curveBasis)([[.23,.44],[.2,.47],[.2,.53],[.23,.56]]))
      .attr("fill","none").attr("stroke","#111").attr("stroke-width",2.2);
    g.append("path").attr("d",d3.line().x(d=>sx(d[0])).y(d=>sy(d[1])).curve(d3.curveBasis)([[.77,.44],[.8,.47],[.8,.53],[.77,.56]]))
      .attr("fill","none").attr("stroke","#111").attr("stroke-width",2.2);
    g.append("g").selectAll("circle").data(marked[r][m]).join("circle")
      .attr("cx",d=>sx(d[0])).attr("cy",d=>sy(d[1])).attr("r",4.8).attr("fill","#fff").attr("stroke","#111").attr("stroke-width",2.2);
    g.append("rect").attr("x",bx).attr("y",by).attr("width",MS).attr("height",MS).attr("fill","none")
      .attr("stroke",col).attr("stroke-opacity",titleShades[r][m]).attr("stroke-width",2);
    txt(g,titles[r][m],bx+MS/2,P.mapT,{size:19,bold:P.bold,color:col,opacity:titleShades[r][m]});
    if((r===0&&m===1))txt(g,"5",bx+95,P.mapY+56,{size:19});
    if((r===2&&m===0))txt(g,"5",bx+95,P.mapY+59,{size:19});
  });
  // colorbar
  const gid="cb"+r;
  const grad=defs.append("linearGradient").attr("id",gid).attr("x1",0).attr("y1",1).attr("x2",0).attr("y2",0);
  [0,1,2,3].forEach(v=>grad.append("stop").attr("offset",v/3).attr("stop-color",colorScale(v)));
  const cbs=d3.scaleLinear().domain([0,3]).range([P.cb[1],P.cb[0]]);
  svg.append("rect").attr("x",1189).attr("y",P.cb[0]).attr("width",7.5).attr("height",P.cb[1]-P.cb[0]).attr("fill",`url(#${gid})`).attr("stroke","#222").attr("stroke-width",1.2);
  const cba=svg.append("g").attr("transform","translate(1196.5,0)").call(d3.axisLeft(cbs).tickValues([1,2]).tickFormat("").tickSize(3).tickSizeOuter(0));
  cba.select(".domain").remove();cba.selectAll("line").attr("stroke","#222");
  txt(svg,"dB",1192,P.cb[0]-7,{size:20});
  txt(svg,"3",1208,P.cb[0]+11,{size:20});
  txt(svg,"0",1208,P.cb[1]+5,{size:20});
});
</script></body></html>
